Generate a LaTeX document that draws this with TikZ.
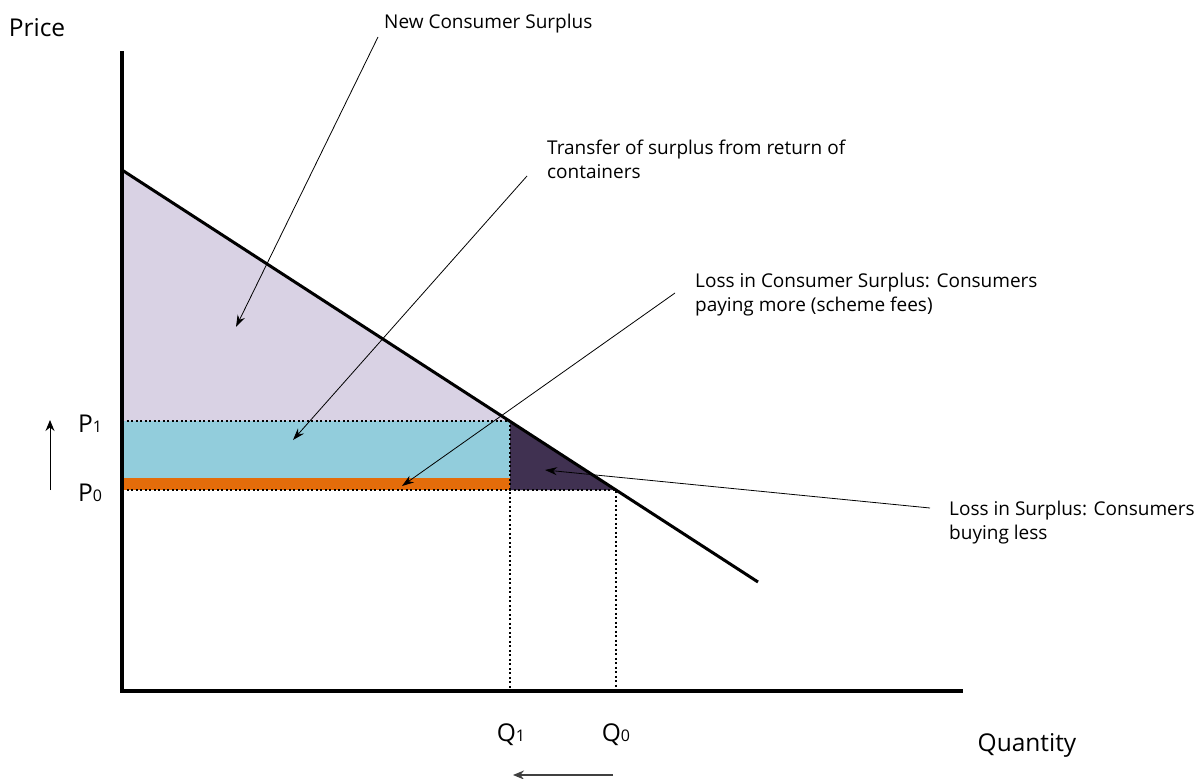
\documentclass[tikz,border=0pt]{standalone}
\usepackage{fontspec}
\setmainfont{Open Sans}
\usetikzlibrary{arrows.meta}
\definecolor{surpluslilac}{RGB}{217,210,228}
\definecolor{transferblue}{RGB}{146,205,220}
\definecolor{feeorange}{RGB}{228,108,10}
\definecolor{lossplum}{RGB}{64,49,81}

\begin{document}
\begin{tikzpicture}[x=1pt,y=-1pt,
    note/.style={align=left, anchor=north west, inner sep=0pt, font=\fontsize{19}{24}\selectfont},
    axislabel/.style={inner sep=0pt, font=\fontsize{24.5}{26}\selectfont},
    pointer/.style={line width=0.8pt, -{Stealth[length=12pt,width=8pt]}},
    guide/.style={line width=2.2pt, dash pattern=on 2.2pt off 2.3pt}]
	\useasboundingbox (0,0) rectangle (1203,779);
	% key points of the diagram
	\coordinate (origin) at (122,691);
	\coordinate (ytop) at (122,51);
	\coordinate (xend) at (963,691);
	\coordinate (dtop) at (122,170);
	\coordinate (dend) at (758,582);
	\coordinate (pone) at (122,421);
	\coordinate (pzero) at (122,490);
	\coordinate (eqone) at (510,421);
	\coordinate (eqzero) at (616,490);
	\coordinate (corner) at (510,490);
	% surplus areas
	\fill[surpluslilac] (dtop) -- (eqone) -- (pone) -- cycle;
	\fill[transferblue] (pone) rectangle (510,478);
	\fill[feeorange] (122,478) rectangle (corner);
	\fill[lossplum] (eqone) -- (eqzero) -- (corner) -- cycle;
	% dotted guides
	\draw[guide] (pone) -- (eqone) -- (510,691);
	\draw[guide] (pzero) -- (eqzero) -- (616,691);
	% axes and demand
	\draw[line width=4pt] (ytop) -- (origin) -- (xend);
	\draw[line width=3pt] (dtop) -- (dend);
	% axis labels
	\node[axislabel] (price) at (37,28) {Price};
	\node[axislabel] (quantity) at (1027,745) {Quantity};
	\node[axislabel] (plabone) at (90,424) {P{\fontsize{16}{16}\selectfont 1}};
	\node[axislabel] (plabzero) at (90,493) {P{\fontsize{16}{16}\selectfont 0}};
	\node[axislabel] (qlabone) at (511,735) {Q{\fontsize{16}{16}\selectfont 1}};
	\node[axislabel] (qlabzero) at (616,735) {Q{\fontsize{16}{16}\selectfont 0}};
	% shift arrows
	\coordinate (upfrom) at (50,490);
	\coordinate (upto) at (50,420);
	\coordinate (leftfrom) at (613,775);
	\coordinate (leftto) at (513,775);
	\draw[line width=1pt, -{Stealth[length=11pt,width=9pt]}] (upfrom) -- (upto);
	\draw[line width=1.3pt, black!75, -{Stealth[length=11pt,width=9pt]}] (leftfrom) -- (leftto);
	% annotations
	\node[note] (newcs) at (384,14) {New Consumer Surplus};
	\node[note] (transfer) at (547,140) {Transfer of surplus from return of\\containers};
	\node[note] (feeloss) at (695,273) {Loss in Consumer Surplus: Consumers\\paying more (scheme fees)};
	\node[note] (buyloss) at (949,501) {Loss in Surplus: Consumers\\buying less};
	\coordinate (newcsfrom) at (378,37);
	\coordinate (newcsto) at (236,327);
	\coordinate (transferfrom) at (527,176);
	\coordinate (transferto) at (293,440);
	\coordinate (feelossfrom) at (675,293);
	\coordinate (feelossto) at (402,486);
	\coordinate (buylossfrom) at (930,508);
	\coordinate (buylossto) at (545,470);
	\draw[pointer] (newcsfrom) -- (newcsto);
	\draw[pointer] (transferfrom) -- (transferto);
	\draw[pointer] (feelossfrom) -- (feelossto);
	\draw[pointer] (buylossfrom) -- (buylossto);
\end{tikzpicture}
\end{document}
